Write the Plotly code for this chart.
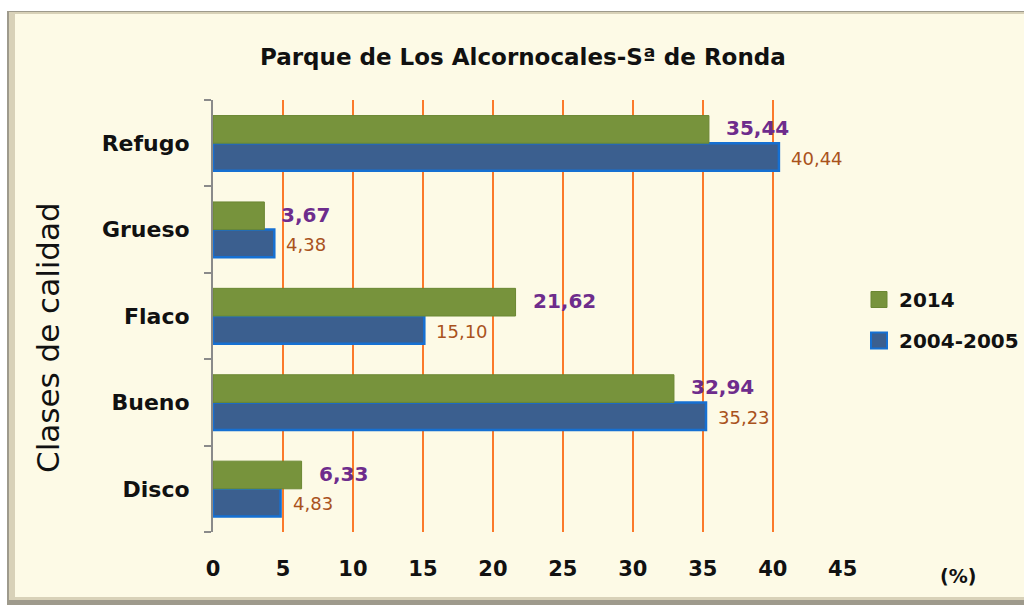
import plotly.graph_objects as go

# ---------------- data ----------------
categories = ["Disco", "Bueno", "Flaco", "Grueso", "Refugo"]
values_2014 = [6.33, 32.94, 21.62, 3.67, 35.44]
values_2004_2005 = [4.83, 35.23, 15.10, 4.38, 40.44]
series_names = ["2014", "2004-2005"]
x_ticks = [0, 5, 10, 15, 20, 25, 30, 35, 40, 45]
title_text = "Parque de Los Alcornocales-Sª de Ronda"
y_title_text = "Clases de calidad"
unit_text = "(%)"

# ---------------- layout geometry ----------------
W, H = 1024, 608
ML, MR, MT, MB = 213, 181, 100, 76
PW = W - ML - MR
PH = H - MT - MB


def px_x(px):
    return (px - ML) / PW


def px_y(py):
    return (H - MB - py) / PH


FONT = "DejaVu Sans"
GREEN = "#77933c"
GREEN_LINE = "#6b8733"
BLUE = "#3b5f8f"
BLUE_LINE = "#1670d2"
PURPLE = "#6e2c8c"
BROWN = "#a9521c"
ORANGE = "#fb7a2a"
AXIS_GREY = "#8a8a8a"


def fmt(v):
    return f"{v:.2f}".replace(".", ",")


fig = go.Figure()

fig.add_trace(go.Bar(
    name=series_names[1], y=categories, x=values_2004_2005, orientation="h",
    marker=dict(color=BLUE, line=dict(color=BLUE_LINE, width=2.5)),
    showlegend=False, hoverinfo="x+y",
))
fig.add_trace(go.Bar(
    name=series_names[0], y=categories, x=values_2014, orientation="h",
    marker=dict(color=GREEN, line=dict(color=GREEN_LINE, width=1)),
    showlegend=False, hoverinfo="x+y",
))

# legend proxies (larger square symbols)
fig.add_trace(go.Scatter(
    x=[None], y=[None], mode="markers", name=series_names[0],
    marker=dict(symbol="square", size=16, color=GREEN, line=dict(color=GREEN_LINE, width=1)),
    legendgroup="a",
))
fig.add_trace(go.Scatter(
    x=[None], y=[None], mode="markers", name=series_names[1],
    marker=dict(symbol="square", size=16, color=BLUE, line=dict(color=BLUE_LINE, width=2)),
    legendgroup="b",
))

annotations = []
for cat, v14, v04 in zip(categories, values_2014, values_2004_2005):
    annotations.append(dict(
        x=v14, y=cat, xref="x", yref="y", text="<b>" + fmt(v14) + "</b>",
        showarrow=False, xanchor="left", yanchor="middle", xshift=15, yshift=15,
        font=dict(family=FONT, size=20, color=PURPLE),
    ))
    annotations.append(dict(
        x=v04, y=cat, xref="x", yref="y", text=fmt(v04),
        showarrow=False, xanchor="left", yanchor="middle", xshift=10, yshift=-15,
        font=dict(family=FONT, size=18, color=BROWN),
    ))

annotations.append(dict(
    x=px_x(523), y=px_y(57), xref="paper", yref="paper",
    text="<b>" + title_text + "</b>", showarrow=False,
    xanchor="center", yanchor="middle",
    font=dict(family=FONT, size=23, color="#111111"),
))
annotations.append(dict(
    x=px_x(48), y=px_y(338), xref="paper", yref="paper",
    text=y_title_text, showarrow=False, textangle=-90,
    xanchor="center", yanchor="middle",
    font=dict(family=FONT, size=31, color="#111111"),
))
annotations.append(dict(
    x=px_x(958), y=px_y(576), xref="paper", yref="paper",
    text="<b>" + unit_text + "</b>", showarrow=False,
    xanchor="center", yanchor="middle",
    font=dict(family=FONT, size=19, color="#111111"),
))

shapes = [
    # frame border
    dict(type="rect", xref="paper", yref="paper", layer="below",
         x0=px_x(7), x1=px_x(1030), y0=px_y(605), y1=px_y(11),
         fillcolor="#9e9a8c", line=dict(width=0)),
    dict(type="rect", xref="paper", yref="paper", layer="below",
         x0=px_x(9), x1=px_x(1030), y0=px_y(600), y1=px_y(12),
         fillcolor="#d8d1b8", line=dict(width=0)),
    dict(type="rect", xref="paper", yref="paper", layer="below",
         x0=px_x(15), x1=px_x(1030), y0=px_y(597), y1=px_y(14),
         fillcolor="#fdfae6", line=dict(width=0)),
]

fig.update_layout(
    width=W, height=H,
    margin=dict(l=ML, r=MR, t=MT, b=MB, autoexpand=False),
    paper_bgcolor="white",
    plot_bgcolor="rgba(0,0,0,0)",
    barmode="group",
    bargap=0.36,
    bargroupgap=0.0,
    font=dict(family=FONT, color="#111111"),
    annotations=annotations,
    shapes=shapes,
    legend=dict(
        x=px_x(859), y=px_y(280), xanchor="left", yanchor="top",
        xref="paper", yref="paper",
        bgcolor="rgba(0,0,0,0)", borderwidth=0,
        font=dict(family=FONT, size=20, color="#111111", weight="bold"),
        traceorder="grouped", tracegroupgap=12,
        itemsizing="trace", itemwidth=30,
    ),
    xaxis=dict(
        range=[0, 45.02],
        tickvals=x_ticks,
        ticktext=["<b>%d</b>" % t for t in x_ticks],
        showgrid=True, gridcolor=ORANGE, gridwidth=2,
        zeroline=False, showline=False, ticks="",
        ticklabelstandoff=22,
        tickfont=dict(family=FONT, size=21, color="#111111"),
        fixedrange=True,
    ),
    yaxis=dict(
        categoryorder="array", categoryarray=categories,
        ticktext=["<b>%s</b>" % c for c in categories], tickvals=categories,
        showline=True, linecolor=AXIS_GREY, linewidth=2,
        ticks="outside", tickson="boundaries", ticklen=7, tickcolor=AXIS_GREY, tickwidth=2,
        showgrid=False, zeroline=False,
        ticklabelstandoff=17,
        tickfont=dict(family=FONT, size=22, color="#111111"),
        fixedrange=True,
    ),
)

fig.write_html(
    "out.html",
    config={"displayModeBar": False},
    post_script="document.body.style.margin='0';document.body.style.overflow='hidden';",
)
